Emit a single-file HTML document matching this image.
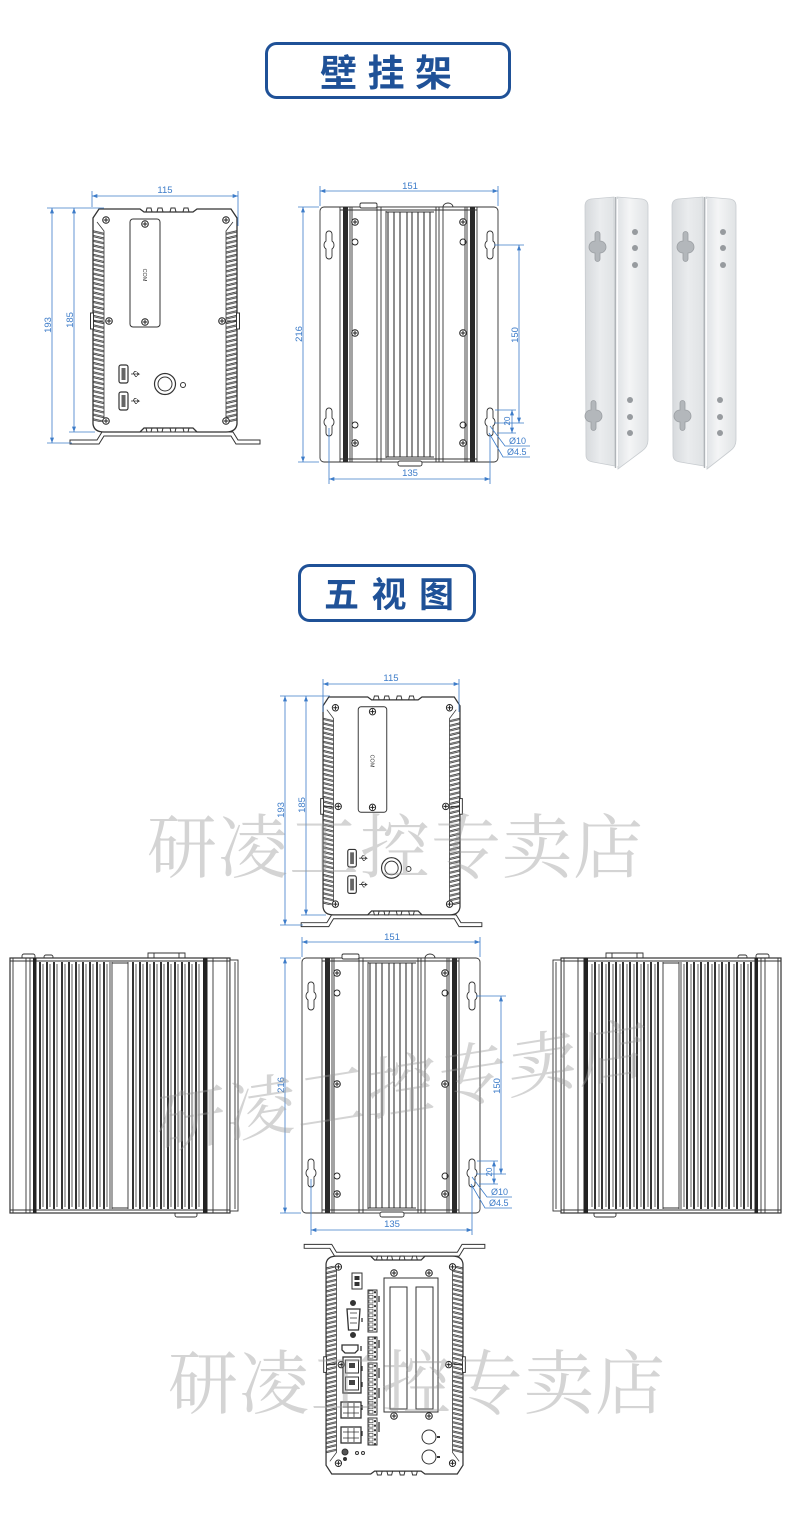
<!DOCTYPE html>
<html><head><meta charset="utf-8">
<style>
html,body{margin:0;padding:0;background:#fff;}
body{width:790px;height:1513px;overflow:hidden;position:relative;}
svg{position:absolute;left:0;top:0;}
.d{font-family:"Liberation Sans",sans-serif;fill:#3d7cc9;font-size:9.5px;}
.wm{font-family:"Liberation Serif","Noto Serif CJK SC",serif;fill:#999;fill-opacity:0.42;}
.tt{font-family:"Liberation Sans","Noto Sans CJK SC",sans-serif;font-weight:bold;fill:#1f5197;}
</style></head>
<body>
<svg width="790" height="1513" viewBox="0 0 790 1513" xmlns="http://www.w3.org/2000/svg">
<defs>
 <marker id="ar" viewBox="0 0 8 6" refX="8" refY="3" markerUnits="userSpaceOnUse" markerWidth="6" markerHeight="4" orient="auto-start-reverse"><path d="M0,0L8,3L0,6Z" fill="#3d7cc9"/></marker>
 <pattern id="fL" patternUnits="userSpaceOnUse" x="93" y="230" width="11" height="4.7"><path d="M0,0.6L11,3.2M0,1.9L11,4.5" stroke="#333" stroke-width="0.85" fill="none"/></pattern>
 <pattern id="fR" patternUnits="userSpaceOnUse" x="226" y="230" width="11" height="4.7"><path d="M0,3.2L11,0.6M0,4.5L11,1.9" stroke="#333" stroke-width="0.85" fill="none"/></pattern>
 <pattern id="tb" patternUnits="userSpaceOnUse" x="368" y="1290" width="9" height="4.6"><rect x="1" y="0.8" width="4" height="3" fill="none" stroke="#333" stroke-width="0.6"/><rect x="6" y="1.3" width="2" height="2" fill="#333"/></pattern>
 <linearGradient id="gl" x1="0" y1="0" x2="1" y2="0"><stop offset="0" stop-color="#d6d9dc"/><stop offset="0.5" stop-color="#eaecee"/><stop offset="1" stop-color="#dfe2e4"/></linearGradient>
 <linearGradient id="gr" x1="0" y1="0" x2="1" y2="0"><stop offset="0" stop-color="#dfe2e5"/><stop offset="0.4" stop-color="#f4f5f6"/><stop offset="1" stop-color="#e0e3e5"/></linearGradient>
 <g id="sc"><circle r="3.3" fill="#fff" stroke="#222" stroke-width="1"/><path d="M-2.3,0H2.3M0,-2.3V2.3" stroke="#222" stroke-width="1"/></g>
 <g id="fs" fill="none" stroke="#333" stroke-width="1">
  <path d="M70,440H97L102,432H233L238,440H260V444H236L231,436H104L99,444H70Z" fill="#fff"/>
  <path d="M146,212l1,-4h4l1,4M157,212l1,-4h4l1,4M170,212l1,-4h4l1,4M183,212l1,-4h4l1,4" fill="#fff"/>
  <path d="M146,428l1,4h4l1,-4M157,428l1,4h4l1,-4M170,428l1,4h4l1,-4M183,428l1,4h4l1,-4" fill="#fff"/>
  <path d="M99,209H140L144,212H193L197,209H231L237,218V424Q236,432 226,432H197L193,428H144L140,432H104Q94,432 93,424V218Z" fill="#fff" stroke-width="1.3"/>
  <rect x="93" y="230" width="11" height="192" fill="url(#fL)" stroke="none"/>
  <rect x="226" y="230" width="11" height="192" fill="url(#fR)" stroke="none"/>
  <path d="M97,222L104,231V422M233,222L226,231V422" stroke-width="0.8"/>
  <rect x="90.5" y="313" width="3" height="16" fill="#fff"/><path d="M93.5,321H103"/>
  <rect x="236.5" y="313" width="3" height="16" fill="#fff"/><path d="M227,321H236.5"/>
  <use href="#sc" x="106" y="220"/><use href="#sc" x="226" y="220"/>
  <use href="#sc" x="106" y="421"/><use href="#sc" x="226" y="421"/>
  <use href="#sc" x="109" y="321"/><use href="#sc" x="222" y="321"/>
 </g>
 <g id="fd" fill="none" stroke="#333" stroke-width="1">
  <rect x="130" y="219" width="30" height="108" rx="3" fill="#fff"/>
  <use href="#sc" x="145" y="224"/><use href="#sc" x="145" y="322"/>
  <rect x="119" y="365" width="9" height="18" rx="2" stroke-width="1.2"/><rect x="121.5" y="368" width="4" height="12" fill="#666" stroke="none"/>
  <rect x="119" y="392" width="9" height="18" rx="2" stroke-width="1.2"/><rect x="121.5" y="395" width="4" height="12" fill="#666" stroke="none"/>
  <path d="M131,374h8l-2,-1.5M139,374l-2,1.5M133,374l1.5,-2.5h2M134,374l1.5,2.5h1.5M131,401h8l-2,-1.5M139,401l-2,1.5M133,401l1.5,-2.5h2M134,401l1.5,2.5h1.5" stroke-width="0.8"/>
  <circle cx="165" cy="384" r="10.5" stroke-width="1.2"/><circle cx="165" cy="384" r="7"/>
  <circle cx="183" cy="385" r="2.5"/>
 </g>
 <g id="tv" fill="none" stroke="#333" stroke-width="0.9">
  <rect x="320" y="207" width="178" height="255" rx="4" fill="#fff"/>
  <rect x="340" y="207" width="137" height="255" fill="#fff"/>
  <rect x="360" y="203" width="17" height="5" rx="1.5" fill="#fff"/>
  <path d="M443,207a5,4 0 0 1 10,0"/>
  <rect x="398" y="461" width="24" height="5" rx="2" fill="#fff"/>
  <rect x="343" y="207" width="5" height="255" fill="#2a2a2a" stroke="none"/>
  <rect x="470" y="207" width="5" height="255" fill="#2a2a2a" stroke="none"/>
  <path d="M350,207V462M352,207V462M377,207V462M381,207V462M386,211V458M465,207V462M467,207V462M436,207V462M439,207V462M443,207V462"/>
  <path d="M388,212V457M394,212V457M400,212V457M407,212V457M412,212V457M418,212V457M424,212V457M430,212V457" stroke-width="1.1"/>
  <path d="M340,210H477M340,459H477M386,212H434M386,457H434"/>
  <path d="M326,234A3,3 0 0 1 332,234L332,241A5,5 0 0 1 332,249L332,256A3,3 0 0 1 326,256L326,249A5,5 0 0 1 326,241Z"/>
  <path d="M487,234A3,3 0 0 1 493,234L493,241A5,5 0 0 1 493,249L493,256A3,3 0 0 1 487,256L487,249A5,5 0 0 1 487,241Z"/>
  <path d="M326,411A3,3 0 0 1 332,411L332,418A5,5 0 0 1 332,426L332,433A3,3 0 0 1 326,433L326,426A5,5 0 0 1 326,418Z"/>
  <path d="M487,411A3,3 0 0 1 493,411L493,418A5,5 0 0 1 493,426L493,433A3,3 0 0 1 487,433L487,426A5,5 0 0 1 487,418Z"/>
  <use href="#sc" x="355" y="222"/><use href="#sc" x="463" y="222"/>
  <use href="#sc" x="355" y="333"/><use href="#sc" x="463" y="333"/>
  <use href="#sc" x="355" y="443"/><use href="#sc" x="463" y="443"/>
  <circle cx="355" cy="242" r="3" stroke="#222"/><circle cx="463" cy="242" r="3" stroke="#222"/>
  <circle cx="355" cy="425" r="3" stroke="#222"/><circle cx="463" cy="425" r="3" stroke="#222"/>
 </g>
 <g id="tvd" stroke="#3d7cc9" stroke-width="0.8" fill="none">
  <path d="M320,186V206M498,186V206M298,207H319M298,462H319M494,245H524M494,423H524M495,410H516M497,433H516M329,428V484M490,434V484"/>
  <path d="M320,191H498" marker-start="url(#ar)" marker-end="url(#ar)"/>
  <path d="M303,207V462" marker-start="url(#ar)" marker-end="url(#ar)"/>
  <path d="M519,245V423" marker-start="url(#ar)" marker-end="url(#ar)"/>
  <path d="M512,410V433" marker-start="url(#ar)" marker-end="url(#ar)"/>
  <path d="M329,479H490" marker-start="url(#ar)" marker-end="url(#ar)"/>
  <path d="M490,426L505,446H530M489,433L503,457H530"/>
 </g>
 <g id="sv" fill="none" stroke="#333" stroke-width="0.9">
  <rect x="22" y="954" width="13" height="5" rx="2" fill="#fff"/>
  <rect x="44" y="955" width="9" height="4" rx="2" fill="#fff"/>
  <path d="M148,958V953H185V958M154,953V958M179,953V958" fill="#fff"/>
  <rect x="175" y="1212" width="22" height="5" rx="2" fill="#fff"/>
  <rect x="10" y="958" width="220" height="255" fill="#fff" stroke-width="1.2"/>
  <rect x="230" y="960" width="8" height="251" fill="#fff"/>
  <path d="M235,962V1209"/>
  <path d="M10,961H230M10,1210H230"/>
  <path d="M13,958V1213M26,958V1213M30,958V1213M110,962V1209M112,962V1209M128,962V1209M213,958V1213M227,958V1213"/>
  <rect x="33" y="958" width="3.5" height="255" fill="#222" stroke="none"/>
  <rect x="203" y="958" width="4.5" height="255" fill="#222" stroke="none"/>
  <path d="M40,962V1209M47,962V1209M54,962V1209M62,962V1209M69,962V1209M76,962V1209M83,962V1209M90,962V1209M97,962V1209M104,962V1209M133,962V1209M140,962V1209M147,962V1209M154,962V1209M161,962V1209M168,962V1209M175,962V1209M182,962V1209M189,962V1209M196,962V1209" stroke-width="1.8" stroke="#1e1e1e"/>
  <path d="M43,964V1207M50,964V1207M57,964V1207M65,964V1207M72,964V1207M79,964V1207M86,964V1207M93,964V1207M100,964V1207M107,964V1207M136,964V1207M143,964V1207M150,964V1207M157,964V1207M164,964V1207M171,964V1207M178,964V1207M185,964V1207M192,964V1207M199,964V1207" stroke-width="0.8"/>
  <path d="M112,963H128M112,1208H128"/>
 </g>
</defs>

<!-- Title 1 -->
<rect x="266.5" y="43.5" width="243" height="54" rx="10" fill="none" stroke="#1f5197" stroke-width="3"/>
<text class="tt" x="320" y="86" font-size="37" textLength="132" lengthAdjust="spacing">壁挂架</text>

<!-- Section 1 front view -->
<use href="#fs"/>
<use href="#fd"/>
<text x="0" y="0" font-family="Liberation Sans,sans-serif" font-size="5.5" fill="#333" transform="translate(143,275) rotate(90)" text-anchor="middle">COM</text>
<g stroke="#3d7cc9" stroke-width="0.8" fill="none">
 <path d="M92,191V207M238,191V226M47,208H104M47,443H72M69,432H95"/>
 <path d="M92,196H238" marker-start="url(#ar)" marker-end="url(#ar)"/>
 <path d="M52,208V443" marker-start="url(#ar)" marker-end="url(#ar)"/>
 <path d="M74,208V432" marker-start="url(#ar)" marker-end="url(#ar)"/>
</g>
<text class="d" x="165" y="193" text-anchor="middle">115</text>
<text class="d" transform="translate(51,325) rotate(-90)" text-anchor="middle">193</text>
<text class="d" transform="translate(73,320) rotate(-90)" text-anchor="middle">185</text>

<!-- Section 1 top view -->
<use href="#tv"/>
<use href="#tvd"/>
<text class="d" x="410" y="189" text-anchor="middle">151</text>
<text class="d" transform="translate(302,334) rotate(-90)" text-anchor="middle">216</text>
<text class="d" transform="translate(518,335) rotate(-90)" text-anchor="middle">150</text>
<text class="d" transform="translate(510,421) rotate(-90)" text-anchor="middle" style="font-size:8px">20</text>
<text class="d" x="509" y="444" style="font-size:9px">Ø10</text>
<text class="d" x="507" y="455" style="font-size:9px">Ø4.5</text>
<text class="d" x="410" y="476" text-anchor="middle">135</text>

<!-- Bracket photos -->
<g>
 <path d="M585,206Q585,200 591,199L614,197L615,466L593,462Q586,461 586,455Z" fill="url(#gl)" stroke="#c8ccd0" stroke-width="0.8"/>
 <path d="M617,197L642,199Q648,200 648,206L648,440Q648,447 642,451L618,469Z" fill="url(#gr)" stroke="#c8ccd0" stroke-width="0.8"/>
 <path d="M615.5,197V468" stroke="#b0b4b8" stroke-width="1.4"/>
 <path d="M617.5,199V466" stroke="#fbfbfc" stroke-width="1.2"/>
 <path d="M595,234A2.5,2.5 0 0 1 600,234L600,241A6,6 0 0 1 600,253L600,259A2.5,2.5 0 0 1 595,259L595,253A6,6 0 0 1 595,241Z" fill="#b3b7bb" stroke="#9a9ea2" stroke-width="0.8"/>
 <path d="M591,403A2.5,2.5 0 0 1 596,403L596,410A6,6 0 0 1 596,422L596,428A2.5,2.5 0 0 1 591,428L591,422A6,6 0 0 1 591,410Z" fill="#b3b7bb" stroke="#9a9ea2" stroke-width="0.8"/>
 <circle cx="635" cy="232" r="3" fill="#979b9f"/><circle cx="635" cy="248" r="3" fill="#979b9f"/><circle cx="635" cy="265" r="3" fill="#979b9f"/>
 <circle cx="630" cy="400" r="3" fill="#979b9f"/><circle cx="630" cy="417" r="3" fill="#979b9f"/><circle cx="630" cy="433" r="3" fill="#979b9f"/>

 <path d="M672,206Q672,200 678,199L703,197L704,466L680,462Q673,461 673,455Z" fill="url(#gl)" stroke="#c8ccd0" stroke-width="0.8"/>
 <path d="M706,197L730,199Q736,200 736,206L736,440Q736,447 730,451L707,469Z" fill="url(#gr)" stroke="#c8ccd0" stroke-width="0.8"/>
 <path d="M704.5,197V468" stroke="#b0b4b8" stroke-width="1.4"/>
 <path d="M706.5,199V466" stroke="#fbfbfc" stroke-width="1.2"/>
 <path d="M683,234A2.5,2.5 0 0 1 688,234L688,241A6,6 0 0 1 688,253L688,259A2.5,2.5 0 0 1 683,259L683,253A6,6 0 0 1 683,241Z" fill="#b3b7bb" stroke="#9a9ea2" stroke-width="0.8"/>
 <path d="M680,403A2.5,2.5 0 0 1 685,403L685,410A6,6 0 0 1 685,422L685,428A2.5,2.5 0 0 1 680,428L680,422A6,6 0 0 1 680,410Z" fill="#b3b7bb" stroke="#9a9ea2" stroke-width="0.8"/>
 <circle cx="723" cy="232" r="3" fill="#979b9f"/><circle cx="723" cy="248" r="3" fill="#979b9f"/><circle cx="723" cy="265" r="3" fill="#979b9f"/>
 <circle cx="720" cy="400" r="3" fill="#979b9f"/><circle cx="720" cy="417" r="3" fill="#979b9f"/><circle cx="720" cy="433" r="3" fill="#979b9f"/>
</g>

<!-- Title 2 -->
<rect x="299.5" y="565.5" width="175" height="55" rx="10" fill="none" stroke="#1f5197" stroke-width="3"/>
<text class="tt" x="324" y="607" font-size="35" textLength="130" lengthAdjust="spacing">五视图</text>

<!-- Five views: front -->
<g transform="translate(234.6,492.8) scale(0.951,0.977)">
 <use href="#fs"/>
 <use href="#fd"/>
</g>
<text x="0" y="0" font-family="Liberation Sans,sans-serif" font-size="5.5" fill="#333" transform="translate(370.5,761) rotate(90)" text-anchor="middle">COM</text>
<g stroke="#3d7cc9" stroke-width="0.8" fill="none">
 <path d="M323,679V712M459,679V712M280,696H330M280,925H303M301,915H326"/>
 <path d="M323,684H459" marker-start="url(#ar)" marker-end="url(#ar)"/>
 <path d="M285,696V925" marker-start="url(#ar)" marker-end="url(#ar)"/>
 <path d="M306,696V915" marker-start="url(#ar)" marker-end="url(#ar)"/>
</g>
<text class="d" x="391" y="681" text-anchor="middle">115</text>
<text class="d" transform="translate(284,810) rotate(-90)" text-anchor="middle">193</text>
<text class="d" transform="translate(305,805) rotate(-90)" text-anchor="middle">185</text>

<!-- Five views: middle row -->
<use href="#sv"/>
<use href="#sv" transform="translate(791,0) scale(-1,1)"/>
<g transform="translate(-18,751)">
 <use href="#tv"/>
 <use href="#tvd"/>
</g>
<text class="d" x="392" y="940" text-anchor="middle">151</text>
<text class="d" transform="translate(284,1085) rotate(-90)" text-anchor="middle">216</text>
<text class="d" transform="translate(500,1086) rotate(-90)" text-anchor="middle">150</text>
<text class="d" transform="translate(492,1172) rotate(-90)" text-anchor="middle" style="font-size:8px">20</text>
<text class="d" x="491" y="1195" style="font-size:9px">Ø10</text>
<text class="d" x="489" y="1206" style="font-size:9px">Ø4.5</text>
<text class="d" x="392" y="1227" text-anchor="middle">135</text>

<!-- Five views: rear -->
<g transform="translate(237.6,1678.2) scale(0.951,-0.977)">
 <use href="#fs"/>
</g>
<g fill="none" stroke="#333" stroke-width="1">
 <rect x="384" y="1278" width="54" height="134" fill="#fff"/>
 <rect x="390" y="1287" width="17" height="122"/>
 <rect x="416" y="1287" width="17" height="122"/>
 <use href="#sc" x="394" y="1273"/><use href="#sc" x="429" y="1273"/>
 <use href="#sc" x="394" y="1416"/><use href="#sc" x="429" y="1416"/>
 <rect x="352" y="1273" width="10" height="16" fill="#fff"/>
 <rect x="354.5" y="1276" width="5" height="4" fill="#333" stroke="none"/>
 <rect x="354.5" y="1282" width="5" height="4" fill="#333" stroke="none"/>
 <path d="M347,1309L360,1309L358.5,1330L348.5,1330Z" stroke-width="1.3"/>
 <path d="M350,1313H357M350,1318H357M350,1323H357" stroke-width="0.8"/>
 <circle cx="353" cy="1303" r="2.5" fill="#333"/><circle cx="353" cy="1335" r="2.5" fill="#333"/>
 <rect x="368" y="1290" width="9" height="42" fill="url(#tb)"/>
 <rect x="368" y="1337" width="9" height="23" fill="url(#tb)"/>
 <rect x="368" y="1363" width="9" height="52" fill="url(#tb)"/>
 <rect x="368" y="1418" width="9" height="27" fill="url(#tb)"/>
 <path d="M379,1296v6M379,1340v8M379,1368v10M379,1388v10M379,1422v10M362,1318v4M361,1346v5M362,1366v5M362,1382v5M362,1405v5M362,1431v5" stroke-width="1.3"/>
 <path d="M342,1345H358L358,1350L355,1353H345L342,1350Z" stroke-width="1.3"/>
 <rect x="343" y="1357" width="18" height="36" stroke-width="1.3"/>
 <rect x="345.5" y="1360" width="13" height="13"/><rect x="349" y="1363" width="6" height="5" fill="#444" stroke="none"/>
 <rect x="345.5" y="1377" width="13" height="13"/><rect x="349" y="1380" width="6" height="5" fill="#444" stroke="none"/>
 <rect x="341" y="1402" width="20" height="16" stroke-width="1.3"/>
 <path d="M343,1407H359M343,1413H359M348,1403V1417M354,1403V1417" stroke-width="0.8"/>
 <rect x="341" y="1427" width="20" height="16" stroke-width="1.3"/>
 <path d="M343,1432H359M343,1438H359M348,1428V1442M354,1428V1442" stroke-width="0.8"/>
 <circle cx="345" cy="1452" r="3" fill="#555"/><circle cx="345" cy="1459" r="1.5" fill="#333"/>
 <circle cx="357" cy="1453" r="1.5"/><circle cx="363" cy="1453" r="1.5"/>
 <circle cx="429" cy="1437" r="7"/><circle cx="429" cy="1457" r="7"/>
 <path d="M437,1437h3M437,1457h3" stroke-width="2"/>
</g>

<!-- Watermarks -->
<text class="wm" x="147" y="872" font-size="70" textLength="496" lengthAdjust="spacing">研凌工控专卖店</text>
<text class="wm" transform="translate(402,1082) skewY(-9)" x="0" y="28" text-anchor="middle" font-size="68" textLength="490" lengthAdjust="spacing">研凌工控专卖店</text>
<text class="wm" x="168" y="1408" font-size="70" textLength="497" lengthAdjust="spacing">研凌工控专卖店</text>
</svg>
</body></html>
